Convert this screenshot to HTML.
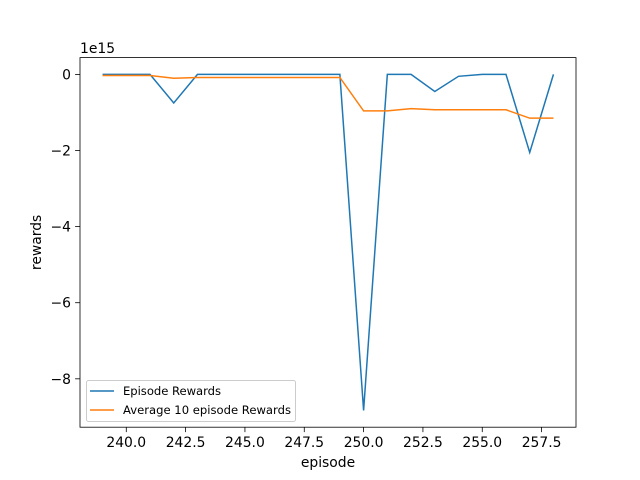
<!DOCTYPE html>
<html><head><meta charset="utf-8"><style>body{margin:0;background:#fff}svg{display:block;font-family:"DejaVu Sans","Liberation Sans",sans-serif}</style></head>
<body>
<svg id="c" width="640" height="480"></svg>
<script>
const episodes=[239,240,241,242,243,244,245,246,247,248,249,250,251,252,253,254,255,256,257,258];
const episodeRewards=[0,0,0,-0.75,0,0,0,0,0,0,0,-8.83,0,0,-0.45,-0.05,0,0,-2.05,0];
const avgRewards=[-0.03,-0.03,-0.03,-0.1,-0.08,-0.08,-0.08,-0.08,-0.08,-0.08,-0.08,-0.96,-0.96,-0.9,-0.93,-0.93,-0.93,-0.93,-1.15,-1.15];
const xTicks=[240,242.5,245,247.5,250,252.5,255,257.5];
const yTicks=[0,-2,-4,-6,-8];
const L=80,R=576,T=57.6,B=427.2;
const xmin=238.05,xmax=258.95,ymin=-9.2715,ymax=0.4415;
const sx=v=>L+(v-xmin)/(xmax-xmin)*(R-L);
const sy=v=>B-(v-ymin)/(ymax-ymin)*(B-T);
const svg=document.getElementById('c');const NS='http://www.w3.org/2000/svg';
function el(t,a,txt){const e=document.createElementNS(NS,t);for(const k in a)e.setAttribute(k,a[k]);if(txt!==undefined)e.textContent=txt;svg.appendChild(e);return e;}
function line(data,color,name){const p=el('polyline',{points:episodes.map((x,i)=>sx(x)+','+sy(data[i])).join(' '),fill:'none',stroke:color,'stroke-width':1.5});

}
line(episodeRewards,'#1f77b4','episode-rewards-line');
line(avgRewards,'#ff7f0e','average-rewards-line');
const fr=el('rect',{x:L,y:T,width:R-L,height:B-T,fill:'none',stroke:'#000','stroke-width':0.8});


xTicks.forEach(v=>{const x=sx(v);el('line',{x1:x,x2:x,y1:B,y2:B+4.9,stroke:'#000','stroke-width':0.8});
const t=el('text',{x:x,y:B+20,'text-anchor':'middle','font-size':13.9},v.toFixed(1));

});
yTicks.forEach(v=>{const y=sy(v);el('line',{x1:L,x2:L-4.9,y1:y,y2:y,stroke:'#000','stroke-width':0.8});
const t=el('text',{x:L-9,y:y+5,'text-anchor':'end','font-size':13.9},v===0?'0':'\u2212'+Math.abs(v));

});
const off=el('text',{x:80,y:53,'font-size':13.9},'1e15');


const xl=el('text',{x:(L+R)/2,y:467,'text-anchor':'middle','font-size':13.9},'episode');


const yl=el('text',{x:0,y:0,'text-anchor':'middle','font-size':13.9,transform:'translate(41,'+((T+B)/2)+') rotate(-90)'},'rewards');


const lb=el('rect',{x:86.5,y:380.5,width:209,height:41,rx:2,fill:'#fff','fill-opacity':0.8,stroke:'#ccc','stroke-width':1});


[['Episode Rewards','#1f77b4',391],['Average 10 episode Rewards','#ff7f0e',410]].forEach(([n,c,y])=>{
el('line',{x1:90,x2:114,y1:y,y2:y,stroke:c,'stroke-width':1.5});
const t=el('text',{x:123,y:y+4,'font-size':11.6,textLength:n.length>20?168:98},n);

});
</script>
</body></html>
